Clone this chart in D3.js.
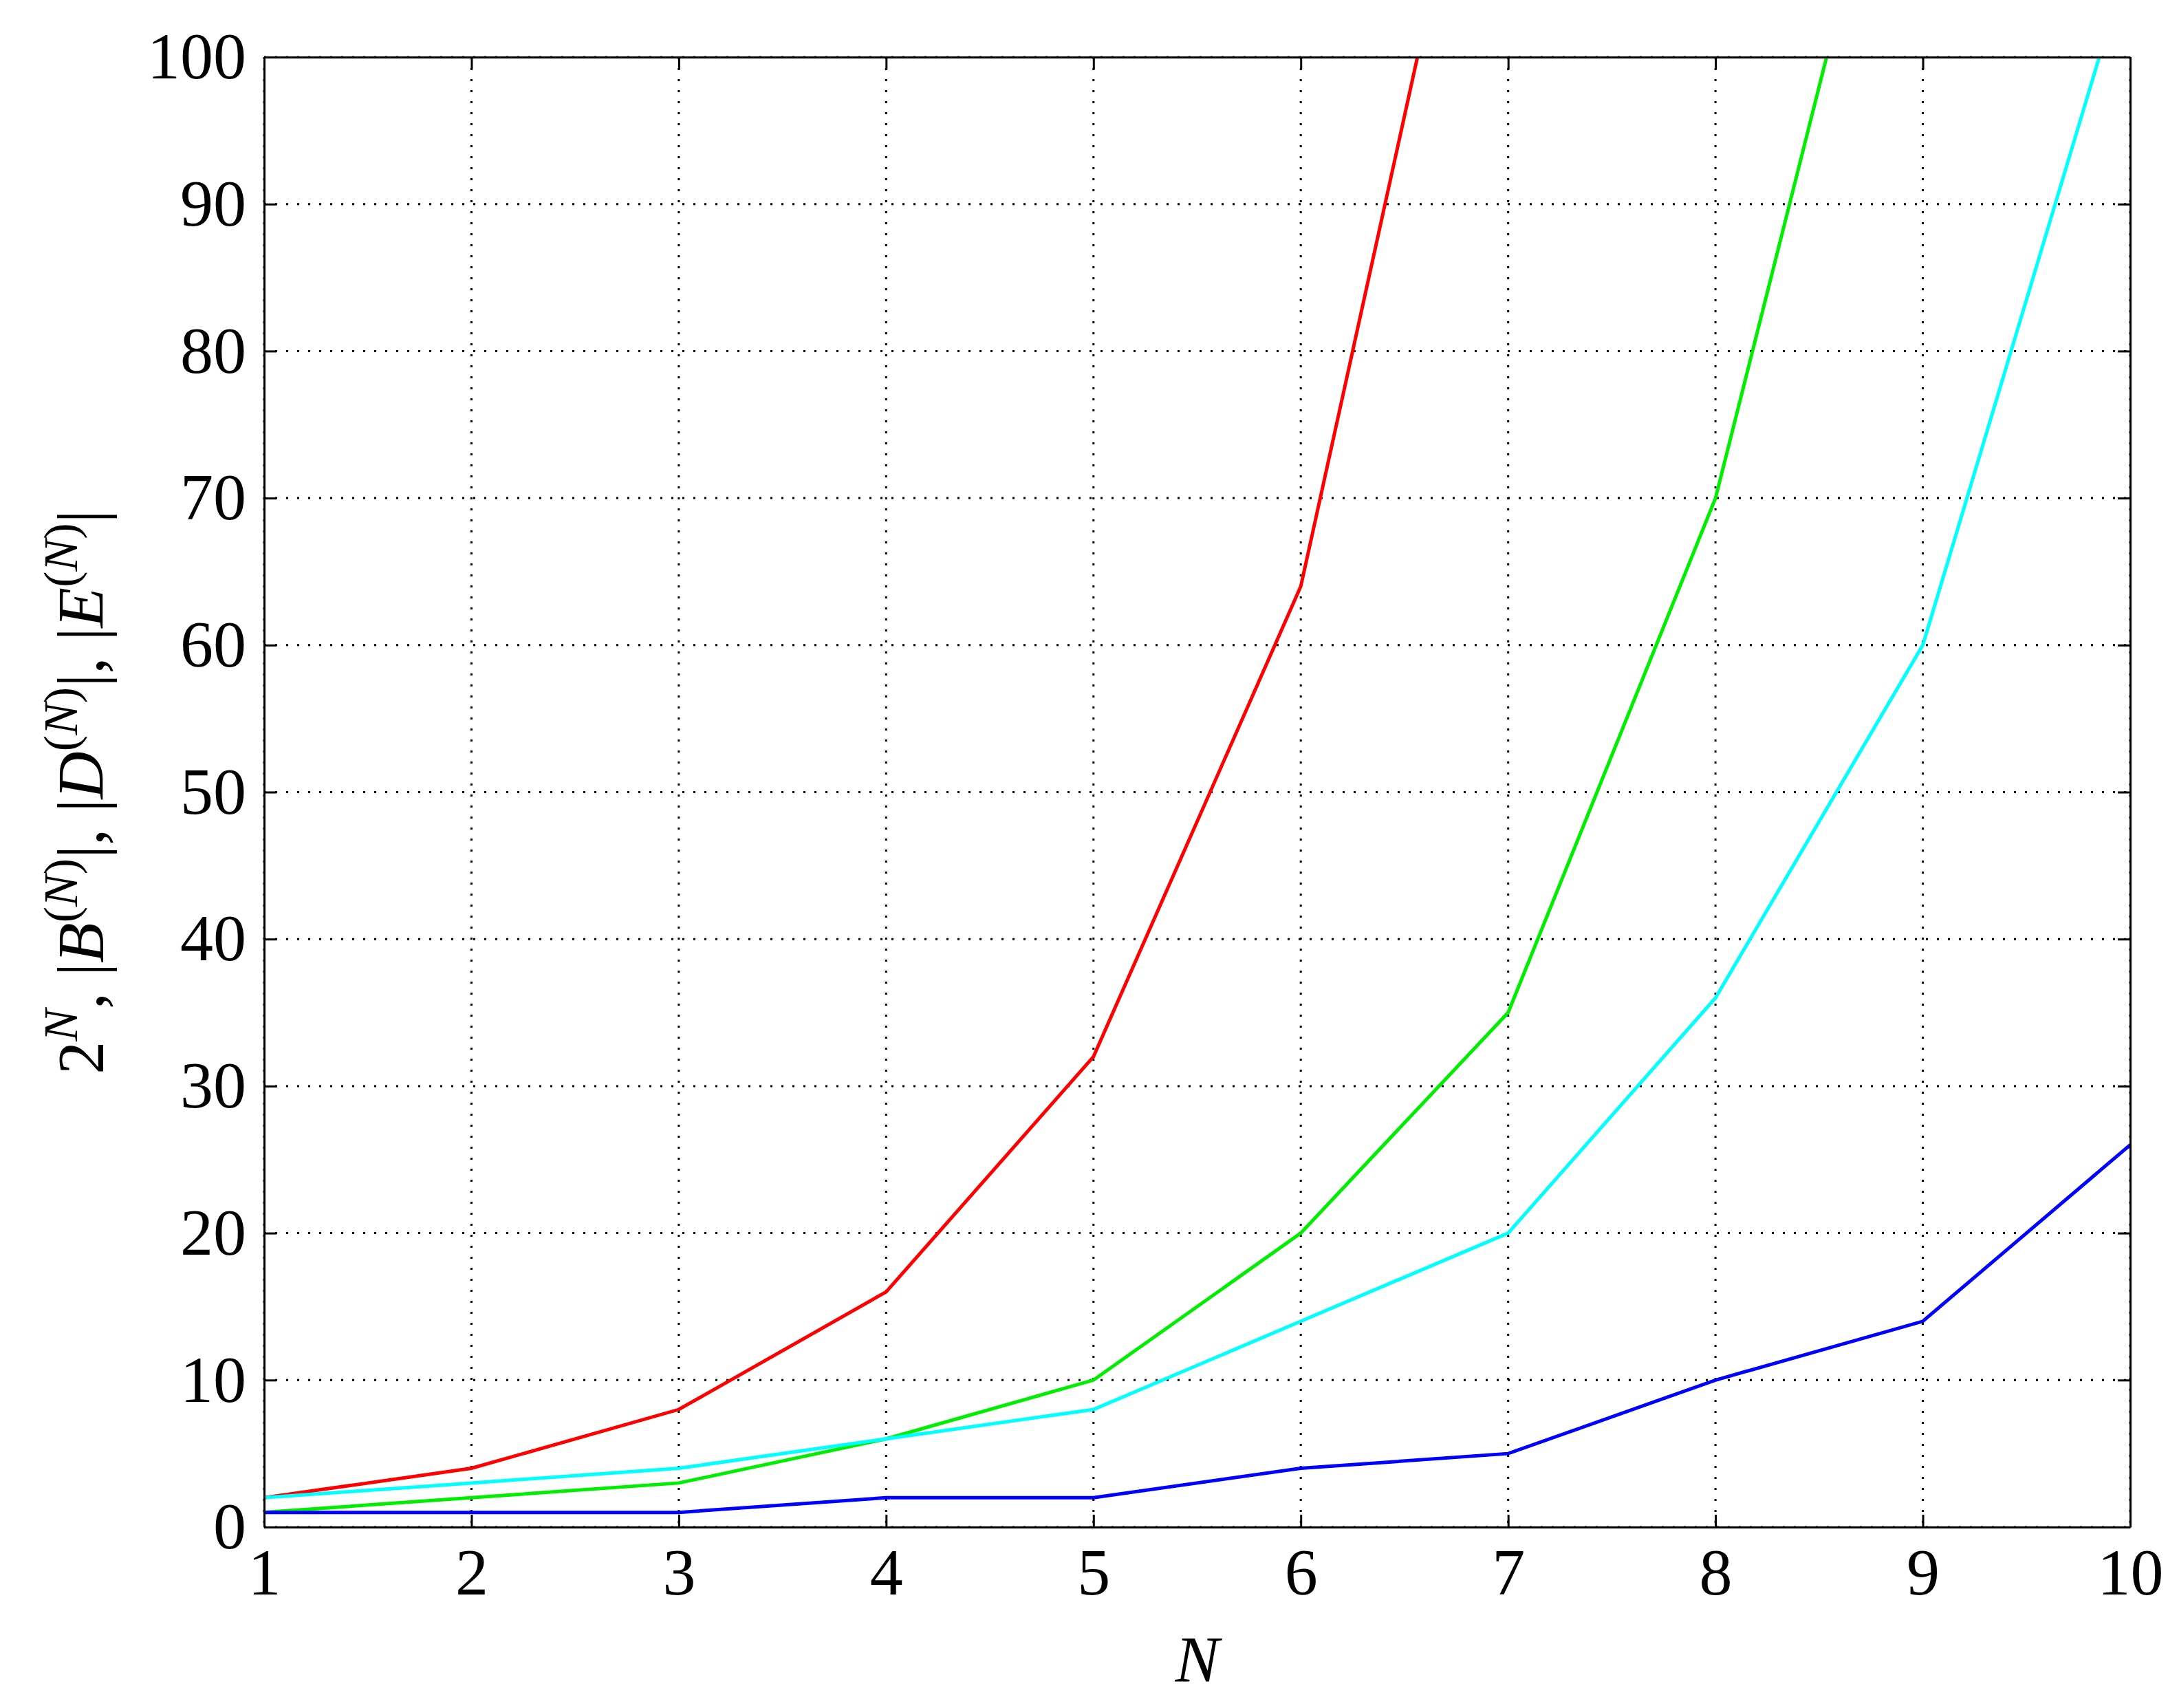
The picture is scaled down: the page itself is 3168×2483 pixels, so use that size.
<!DOCTYPE html>
<html>
<head>
<meta charset="utf-8">
<script src="https://cdn.jsdelivr.net/npm/d3@7"></script>
<style>
  body { margin: 0; background: #fff; }
  text { font-family: "Liberation Serif", "DejaVu Serif", serif; }
</style>
</head>
<body>
<div class="chart"></div>
<script>
// data
var nValues = [1, 2, 3, 4, 5, 6, 7, 8, 9, 10];
var pow2 = [2, 4, 8, 16, 32, 64, 128, 256, 512, 1024];
var bCount = [1, 2, 3, 6, 10, 20, 35, 70, 126, 252];
var dCount = [2, 3, 4, 6, 8, 14, 20, 36, 60, 107];
var eCount = [1, 1, 1, 2, 2, 4, 5, 10, 14, 26];
var xTicks = [1, 2, 3, 4, 5, 6, 7, 8, 9, 10];
var yTicks = [0, 10, 20, 30, 40, 50, 60, 70, 80, 90, 100];

var series = [
  { values: pow2, color: "#ff0000" },
  { values: bCount, color: "#00ee00" },
  { values: dCount, color: "#00ffff" },
  { values: eCount, color: "#0000ff" }
];

var svgWidth = 3168, svgHeight = 2483;
var margin = { top: 83, right: 71, bottom: 263, left: 384 };
var width = svgWidth - margin.left - margin.right;
var height = svgHeight - margin.top - margin.bottom;

var svg = d3.select(".chart").append("svg")
  .attr("width", svgWidth).attr("height", svgHeight);

var g = svg.append("g")
  .attr("transform", `translate(${margin.left}, ${margin.top})`);

var x = d3.scaleLinear().domain([1, 10]).range([0, width]);
var y = d3.scaleLinear().domain([0, 100]).range([height, 0]);

// dotted grid
g.selectAll(".vgrid").data(xTicks).enter().append("line")
  .attr("x1", d => x(d)).attr("x2", d => x(d))
  .attr("y1", 0).attr("y2", height)
  .attr("stroke", "#000").attr("stroke-width", 3).attr("stroke-dasharray", "3,13");
g.selectAll(".hgrid").data(yTicks).enter().append("line")
  .attr("x1", 0).attr("x2", width)
  .attr("y1", d => y(d)).attr("y2", d => y(d))
  .attr("stroke", "#000").attr("stroke-width", 3).attr("stroke-dasharray", "3,13");

// lines, clipped to axes box
svg.append("defs").append("clipPath").attr("id", "clip")
  .append("rect").attr("width", width).attr("height", height);

var line = d3.line().x((d, i) => x(nValues[i])).y(d => y(d));
g.append("g").attr("clip-path", "url(#clip)")
  .selectAll("path").data(series).enter().append("path")
  .attr("d", d => line(d.values))
  .attr("fill", "none").attr("stroke", d => d.color).attr("stroke-width", 5);

// axes with inward ticks on all sides
var tl = 18;
var fs = 96;
g.append("g").attr("transform", `translate(0, ${height})`)
  .call(d3.axisBottom(x).tickValues(xTicks).tickSizeInner(-tl).tickSizeOuter(0).tickPadding(30))
  .call(a => a.selectAll("text").attr("font-size", fs).attr("dy", "0.71em").style("font-family", "Liberation Serif"));
g.append("g")
  .call(d3.axisTop(x).tickValues(xTicks).tickSizeInner(-tl).tickSizeOuter(0).tickFormat(""));
g.append("g")
  .call(d3.axisLeft(y).tickValues(yTicks).tickSizeInner(-tl).tickSizeOuter(0).tickPadding(26))
  .call(a => a.selectAll("text").attr("font-size", fs).style("font-family", "Liberation Serif"));
g.append("g").attr("transform", `translate(${width}, 0)`)
  .call(d3.axisRight(y).tickValues(yTicks).tickSizeInner(-tl).tickSizeOuter(0).tickFormat(""));
g.selectAll(".domain, .tick line").attr("stroke", "#000").attr("stroke-width", 3);

// axis labels
g.append("text")
  .attr("x", width / 2).attr("y", height + 225)
  .attr("text-anchor", "middle").attr("font-size", fs).attr("font-style", "italic")
  .text("N");

var yl = svg.append("text")
  .attr("transform", `translate(150, ${margin.top + height / 2}) rotate(-90)`)
  .attr("text-anchor", "middle").attr("font-size", fs);
var parts = [
  ["2", null], ["N", "supit"], [", |", null], ["B", "it"], ["(", "sup"], ["N", "supit"], [")", "sup"],
  ["|, |", null], ["D", "it"], ["(", "sup"], ["N", "supit"], [")", "sup"],
  ["|, |", null], ["E", "it"], ["(", "sup"], ["N", "supit"], [")", "sup"], ["|", null]
];
var prevSup = false;
parts.forEach(function(p) {
  var sup = p[1] === "sup" || p[1] === "supit";
  var t = yl.append("tspan").text(p[0]);
  if (sup !== prevSup) t.attr("dy", sup ? -38 : 38);
  if (sup) t.attr("font-size", 70);
  if (p[1] === "it" || p[1] === "supit") t.attr("font-style", "italic");
  prevSup = sup;
});
</script>
</body>
</html>
